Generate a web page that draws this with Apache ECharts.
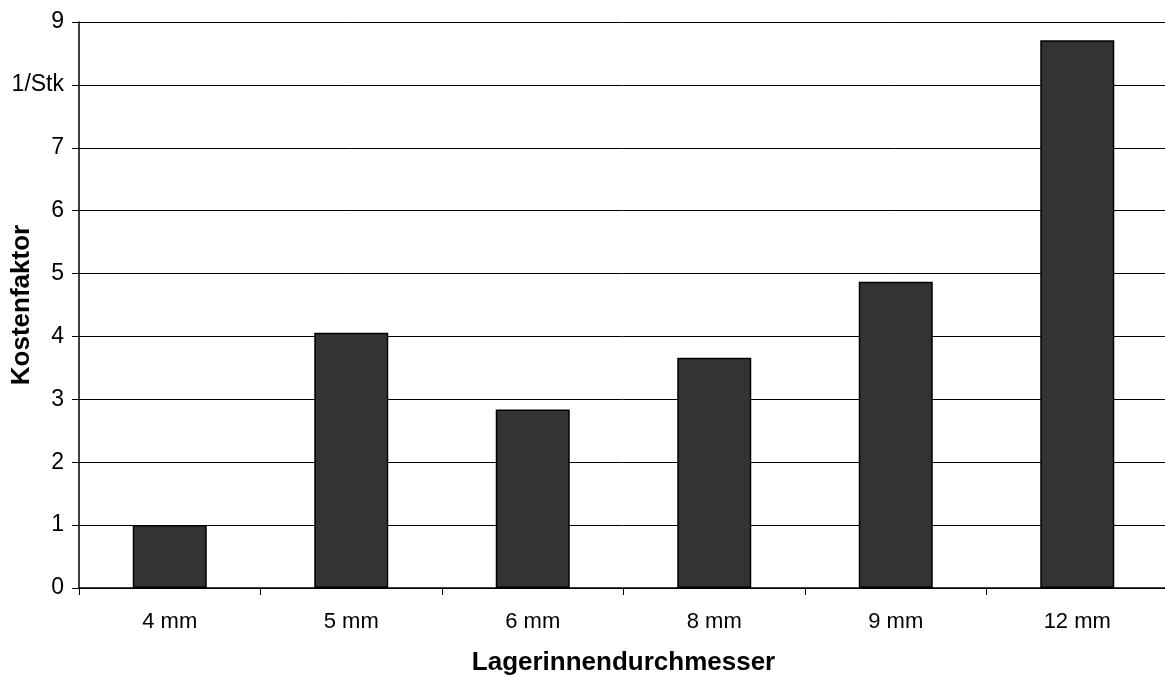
<!DOCTYPE html>
<html>
<head>
<meta charset="utf-8">
<script src="https://cdn.jsdelivr.net/npm/echarts@6/dist/echarts.min.js"></script>
<style>
  html, body { margin: 0; padding: 0; background: #fff; }
  #chart { width: 1165px; height: 677px; }
</style>
</head>
<body>
<div id="chart"></div>
<script>
// Bearing inner diameter categories and relative cost factor
const categories = ['4 mm', '5 mm', '6 mm', '8 mm', '9 mm', '12 mm'];
const kostenfaktor = [1.0, 4.06, 2.84, 3.66, 4.87, 8.71];
// Value axis ticks; the tick at 8 carries the unit label
const yTickLabels = { 0: '0', 1: '1', 2: '2', 3: '3', 4: '4', 5: '5', 6: '6', 7: '7', 8: '1/Stk', 9: '9' };

const chart = echarts.init(document.getElementById('chart'), null, { renderer: 'canvas' });
const font = 'Liberation Sans, Arial, sans-serif';

chart.setOption({
  animation: false,
  backgroundColor: '#ffffff',
  grid: { left: 79, top: 22, width: 1089, height: 566, containLabel: false, outerBoundsMode: 'none' },
  xAxis: {
    type: 'category',
    data: categories,
    name: 'Lagerinnendurchmesser',
    nameLocation: 'middle',
    nameGap: 62,
    nameMoveOverlap: false,
    nameTextStyle: { fontFamily: font, fontSize: 26, fontWeight: 'bold', color: '#000' },
    axisLine: { lineStyle: { color: '#000', width: 1.5 } },
    axisTick: { show: true, alignWithLabel: false, length: 7, lineStyle: { color: '#000' } },
    axisLabel: { fontFamily: font, fontSize: 22, color: '#000', margin: 23 }
  },
  yAxis: {
    type: 'value',
    min: 0, max: 9, interval: 1,
    name: 'Kostenfaktor',
    nameLocation: 'middle',
    nameGap: 44,
    nameMoveOverlap: false,
    nameRotate: 90,
    nameTextStyle: { fontFamily: font, fontSize: 26, fontWeight: 'bold', color: '#000' },
    axisLine: { show: true, lineStyle: { color: '#000', width: 1.5 } },
    axisTick: { show: true, length: 7, lineStyle: { color: '#000' } },
    axisLabel: {
      fontFamily: font, fontSize: 23, color: '#000', margin: 15,
      formatter: v => yTickLabels[v] !== undefined ? yTickLabels[v] : String(v)
    },
    splitLine: { show: true, lineStyle: { color: '#000', width: 1 } }
  },
  series: [{
    type: 'bar',
    data: kostenfaktor,
    barWidth: 74,
    itemStyle: { color: '#333333', borderColor: '#000', borderWidth: 1.5 }
  }]
});
</script>
</body>
</html>
